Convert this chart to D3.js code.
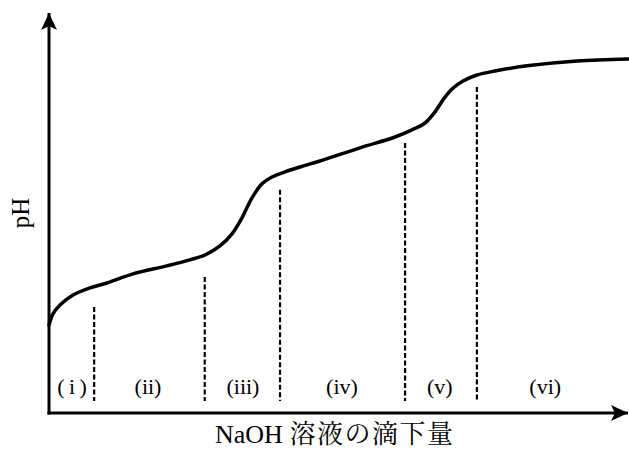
<!DOCTYPE html>
<html>
  <head>
    <meta charset="utf-8">
    <title>pH titration</title>
    <script src="https://cdn.jsdelivr.net/npm/d3@7/dist/d3.min.js"></script>
    <style>
      body { margin: 0; background: #fff; }
      text { font-family: "Liberation Serif", "Noto Serif CJK JP", "Noto Sans CJK JP", serif; fill: #000; }
    </style>
  </head>
  <body>
    <svg width="629" height="450" id="mainsvg"></svg>
    <script>
      // NaOH added (% of the axis length) and pH
      const volume = [0, 0.69, 1.90, 4.15, 7.08, 10.02, 14.51, 20.38, 24.35, 26.94, 29.53, 31.61, 33.33, 35.06, 36.79,
                      38.51, 40.76, 43.35, 46.80, 53.71, 59.76, 62.69, 64.94, 66.67, 68.05, 69.60, 71.50, 73.92,
                      77.03, 82.56, 91.19, 100];
      const ph = [3.08, 3.47, 3.78, 4.13, 4.38, 4.55, 4.87, 5.15, 5.36, 5.53, 5.85, 6.27, 6.83, 7.53, 8.02,
                  8.26, 8.44, 8.61, 8.82, 9.28, 9.66, 9.91, 10.15, 10.54, 10.96, 11.34, 11.62, 11.83,
                  11.97, 12.15, 12.32, 12.39];
      // boundaries between the regions: position and top of each dashed line
      const boundX = [7.8, 26.9, 39.9, 61.5, 73.9];
      const boundTop = [3.71, 4.76, 7.81, 9.45, 11.41];
      const regionNames = ['(\u2009i\u2009)', '(ii)', '(iii)', '(iv)', '(v)', '(vi)'];
      const regionX = [4.0, 17.1, 33.5, 50.6, 67.5, 85.7];

      const svg = d3.select('#mainsvg');
      const x = d3.scaleLinear().domain([0, 100]).range([49, 628]);
      const y = d3.scaleLinear().domain([0, 14]).range([413, 13]);

      const defs = svg.append('defs');
      defs.append('marker')
        .attr('id', 'arrow')
        .attr('viewBox', '0 0 17 16')
        .attr('refX', 17).attr('refY', 8)
        .attr('markerWidth', 17).attr('markerHeight', 16)
        .attr('markerUnits', 'userSpaceOnUse')
        .attr('orient', 'auto')
        .append('path')
        .attr('d', 'M0,0 L17,8 L0,16 L4,8 Z')
        .attr('fill', '#000');

      // axes
      svg.append('line')
        .attr('x1', x(0)).attr('y1', y(0) + 1.5)
        .attr('x2', x(0)).attr('y2', y(14))
        .attr('stroke', '#000').attr('stroke-width', 3)
        .attr('marker-end', 'url(#arrow)');
      svg.append('line')
        .attr('x1', x(0) - 1.5).attr('y1', y(0))
        .attr('x2', x(100)).attr('y2', y(0))
        .attr('stroke', '#000').attr('stroke-width', 3)
        .attr('marker-end', 'url(#arrow)');

      // dashed boundaries
      svg.selectAll('line.bound')
        .data(boundX)
        .enter()
        .append('line')
        .attr('class', 'bound')
        .attr('x1', d => x(d)).attr('x2', d => x(d))
        .attr('y1', (d, i) => y(boundTop[i]))
        .attr('y2', y(0.42))
        .attr('stroke', '#000').attr('stroke-width', 2.2)
        .attr('stroke-dasharray', '5,2.5');

      // titration curve
      const line = d3.line()
        .x(d => x(d[0]))
        .y(d => y(d[1]))
        .curve(d3.curveCatmullRom.alpha(0.5));
      svg.append('path')
        .datum(d3.zip(volume, ph))
        .attr('d', line)
        .attr('fill', 'none')
        .attr('stroke', '#000')
        .attr('stroke-width', 3.5)
        .attr('stroke-linecap', 'round');

      // region labels
      svg.selectAll('text.region')
        .data(regionNames)
        .enter()
        .append('text')
        .attr('class', 'region')
        .attr('x', (d, i) => x(regionX[i]))
        .attr('y', 394)
        .attr('text-anchor', 'middle')
        .attr('font-size', 22)
        .text(d => d);

      // axis titles
      svg.append('text')
        .attr('transform', 'translate(29, 213) rotate(-90)')
        .attr('text-anchor', 'middle')
        .attr('font-size', 25)
        .text('pH');
      const xTitle = svg.append('text')
        .attr('x', 215).attr('y', 443)
        .attr('font-size', 26);
      xTitle.append('tspan').text('NaOH ');
      xTitle.append('tspan').attr('letter-spacing', 1.5).text('溶液の滴下量');
    </script>
  </body>
</html>
